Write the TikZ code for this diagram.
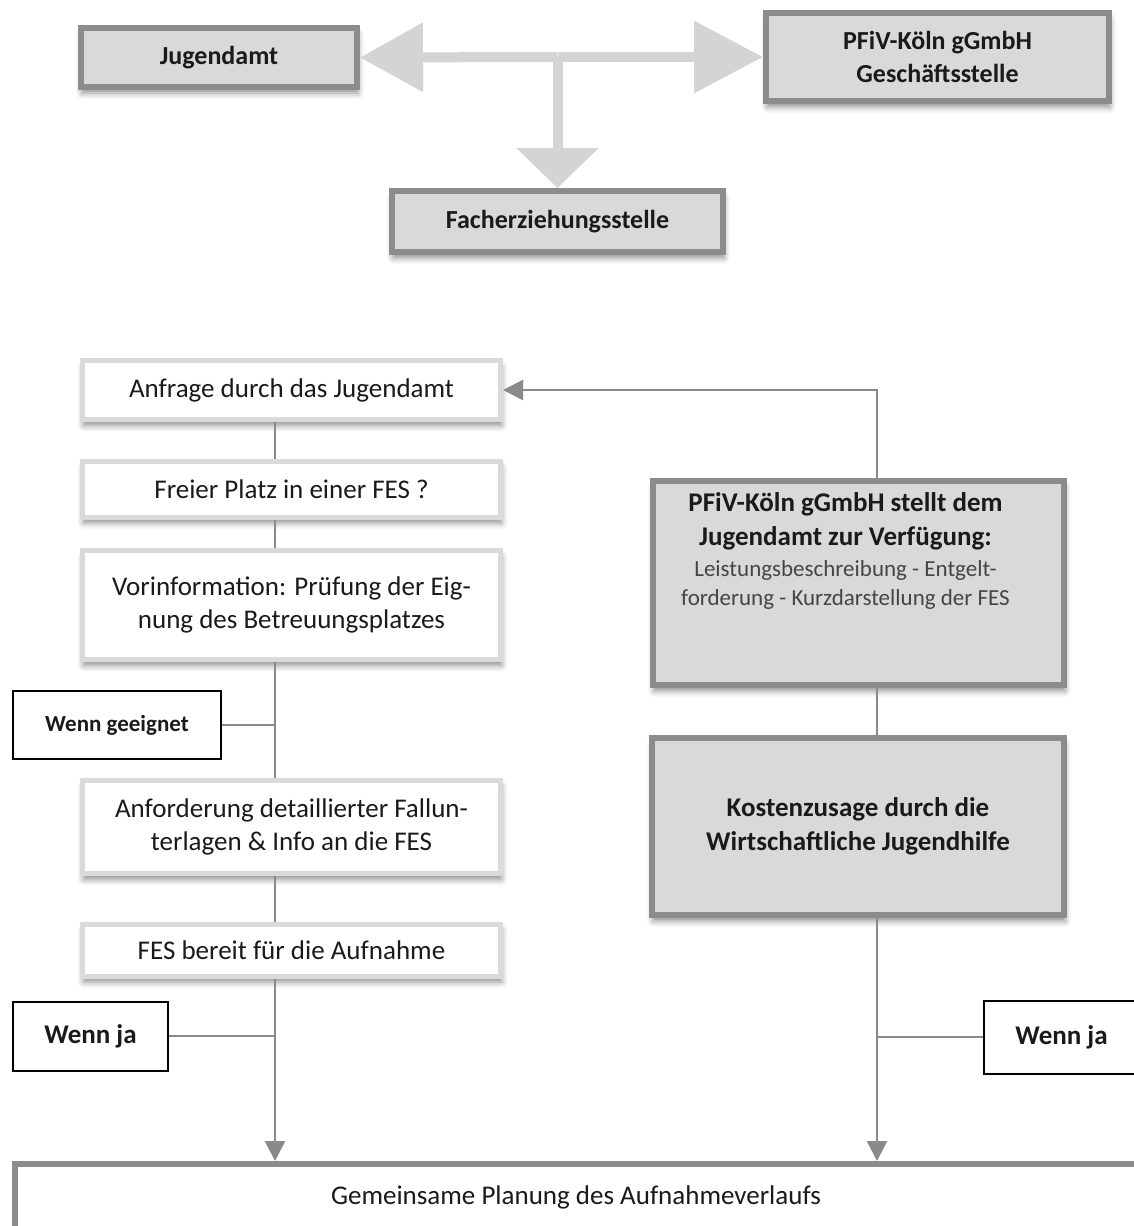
\documentclass[tikz,border=0pt]{standalone}
\usepackage{fontspec}
\setmainfont{Carlito}
\usetikzlibrary{arrows.meta,shadows.blur,calc}
\definecolor{boxgray}{HTML}{D9D9D9}
\definecolor{boxedge}{HTML}{8C8C8C}
\definecolor{arrgray}{HTML}{D4D4D4}
\definecolor{lightedge}{HTML}{DADADA}
\definecolor{linegray}{HTML}{8A8A8A}
\definecolor{txt}{HTML}{1A1A1A}
\definecolor{subtxt}{HTML}{454545}
\begin{document}
\begin{tikzpicture}[x=1pt,y=-1pt,
  every node/.style={inner sep=0pt, text=txt, align=center},
  shd/.style={blur shadow={shadow xshift=1pt, shadow yshift=-6pt, shadow blur radius=6pt, shadow opacity=45}},
  topbox/.style={draw=boxedge, fill=boxgray, line width=6pt, shd, font=\fontsize{26}{33}\selectfont\bfseries},
  whitebox/.style={draw=lightedge, fill=white, line width=5pt, shd, font=\fontsize{27}{33}\selectfont, minimum width=418pt},
  graybox/.style={draw=boxedge, fill=boxgray, line width=6pt, shd, font=\fontsize{27}{34}\selectfont\bfseries},
  condbox/.style={draw=black, fill=white, line width=2pt, font=\fontsize{27}{33}\selectfont\bfseries},
  bigarr/.style={draw=arrgray, line width=10pt},
  conn/.style={draw=linegray, line width=2.5pt},
  tip/.style={-{Triangle[length=20pt,width=20pt]}}
]
\useasboundingbox (0,0) rectangle (1134,1226);

% top section
\node[topbox, minimum width=276pt, minimum height=59pt] (jug) at (219,57.5) {Jugendamt};
\node[topbox, minimum width=343pt, minimum height=88pt] (pfiv) at (937.5,57) {PFiV-Köln gGmbH\\Geschäftsstelle};
\node[topbox, minimum width=331pt, minimum height=61pt] (fes) at (557.5,221.5) {Facherziehungsstelle};
\coordinate (jn) at (557.5,57);
\draw[bigarr, -{Triangle[length=63pt,width=67pt]}] (jn) -- (jug.east);
\draw[bigarr, -{Triangle[length=69pt,width=70pt]}] (jn) -- (pfiv.west);
\draw[bigarr, -{Triangle[length=40pt,width=80pt]}] (jn) -- (fes.north);

% left column
\coordinate (lx) at (275,0);
\coordinate (rx) at (877,0);
\node[whitebox, minimum height=59pt] (anf) at (291.5,390) {Anfrage durch das Jugendamt};
\node[whitebox, minimum height=56pt] (frei) at (291.5,489) {Freier Platz in einer FES ?};
\node[whitebox, minimum height=109pt] (vor) at (291.5,605) {Vorinformation: Prüfung der Eig-\\nung des Betreuungsplatzes};
\node[whitebox, minimum height=93pt] (anf2) at (291.5,827) {Anforderung detaillierter Fallun-\\terlagen \& Info an die FES};
\node[whitebox, minimum height=52pt] (bereit) at (291.5,950) {FES bereit für die Aufnahme};
\node[condbox, minimum width=208pt, minimum height=68pt, font=\fontsize{23}{28}\selectfont\bfseries] (wg) at (117,725) {Wenn geeignet};
\node[condbox, minimum width=155pt, minimum height=69pt] (wj1) at (90.5,1036) {Wenn ja};

% right column
\node[graybox, minimum width=411pt, minimum height=204pt,
  label={[anchor=north, yshift=-14pt, xshift=-13pt, align=center, text=txt, font=\fontsize{27}{34}\selectfont\bfseries]north:{PFiV-Köln gGmbH stellt dem\\Jugendamt zur Verfügung:\\[-3pt]{\mdseries\fontsize{23}{29}\selectfont\color{subtxt}Leistungsbeschreibung - Entgelt-}\\[-5pt]{\mdseries\fontsize{23}{29}\selectfont\color{subtxt}forderung - Kurzdarstellung der FES}}}] (pv) at (858.5,583) {};
\node[graybox, minimum width=412pt, minimum height=177pt] (kz) at (858,826.5) {Kostenzusage durch die\\Wirtschaftliche Jugendhilfe};
\node[condbox, minimum width=155pt, minimum height=73pt] (wj2) at (1061.5,1037) {Wenn ja};

% bottom
\node[draw=boxedge, fill=white, line width=6pt, minimum width=1122pt, minimum height=66pt, font=\fontsize{27}{33}\selectfont] (gem) at (576,1197) {Gemeinsame Planung des Aufnahmeverlaufs};

% connectors left
\draw[conn] (anf.south -| lx) -- (frei.north -| lx);
\draw[conn] (frei.south -| lx) -- (vor.north -| lx);
\draw[conn] (vor.south -| lx) -- (anf2.north -| lx);
\draw[conn] (wg.east) -- (wg.east -| lx);
\draw[conn] (anf2.south -| lx) -- (bereit.north -| lx);
\draw[conn, tip] (bereit.south -| lx) -- (gem.north -| lx);
\draw[conn] (wj1.east) -- (wj1.east -| lx);

% connectors right
\draw[conn, tip] (pv.north -| rx) |- (anf.east);
\draw[conn] (pv.south -| rx) -- (kz.north -| rx);
\draw[conn, tip] (kz.south -| rx) -- (gem.north -| rx);
\draw[conn] (wj2.west) -- (wj2.west -| rx);
\end{tikzpicture}
\end{document}
